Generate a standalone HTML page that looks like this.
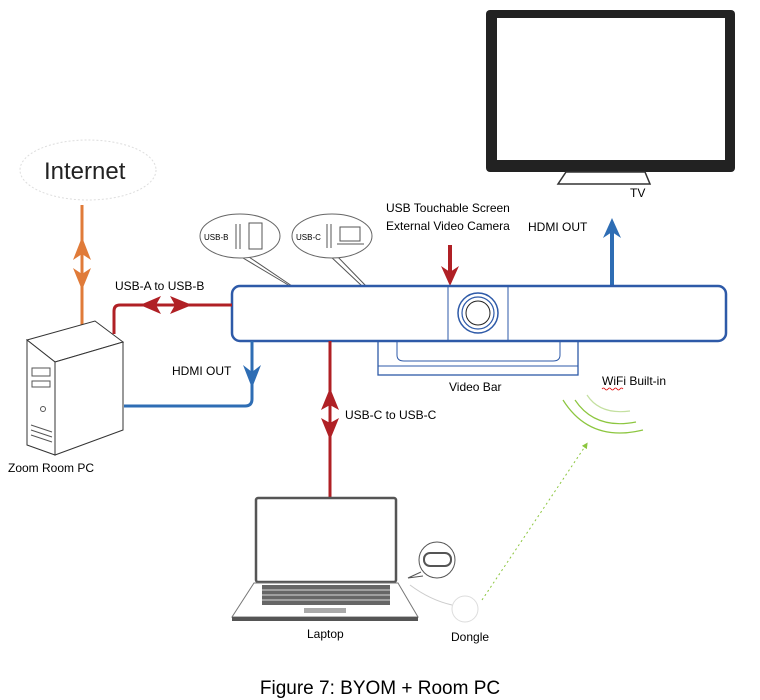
<!DOCTYPE html>
<html><head><meta charset="utf-8"><style>
body{margin:0;background:#fff;}
svg{display:block;font-family:"Liberation Sans",Arial,sans-serif;}
</style></head><body>
<svg width="760" height="700" viewBox="0 0 760 700" xmlns="http://www.w3.org/2000/svg">
<defs>
<marker id="g" markerWidth="6" markerHeight="6" refX="3" refY="3" orient="auto"><path d="M0,0 L6,3 L0,6z" fill="#8cc63f"/></marker>
</defs>
<!-- TV -->
<rect x="486" y="10" width="249" height="162" rx="4" fill="#222"/>
<rect x="497" y="18" width="228" height="142" fill="#fff"/>
<path d="M566 172 L645 172 L650 184 L558 184 Z" fill="#fff" stroke="#333" stroke-width="1.5"/>
<text x="630" y="197" font-size="12">TV</text>
<!-- blue up to TV -->
<line x1="612" y1="287" x2="612" y2="230" stroke="#2e6db4" stroke-width="4"/>
<path d="M603 238 L612 218 L621 238 L612 232Z" fill="#2e6db4"/>
<text x="528" y="231" font-size="12">HDMI OUT</text>
<!-- red down to bar -->
<text x="386" y="212" font-size="12">USB Touchable Screen</text>
<text x="386" y="230" font-size="12">External Video Camera</text>
<line x1="450" y1="245" x2="450" y2="275" stroke="#b02025" stroke-width="4"/>
<path d="M441 266 L450 286 L459 266 L450 272Z" fill="#b02025"/>
<!-- bubbles -->
<path d="M238 255 L290 286 M243 253 L292 286" stroke="#555" fill="none"/>
<ellipse cx="240" cy="236" rx="40" ry="22" fill="#fff" stroke="#666"/>
<text x="204" y="240" font-size="8">USB-B</text>
<line x1="236" y1="224" x2="236" y2="249" stroke="#555"/><line x1="240" y1="224" x2="240" y2="249" stroke="#555"/>
<rect x="249" y="223" width="13" height="26" fill="none" stroke="#555"/>
<path d="M329 255 L362 286 M335 254 L366 286" stroke="#555" fill="none"/>
<ellipse cx="332" cy="236" rx="40" ry="22" fill="#fff" stroke="#666"/>
<text x="296" y="240" font-size="8">USB-C</text>
<line x1="327" y1="224" x2="327" y2="248" stroke="#555"/><line x1="331" y1="224" x2="331" y2="248" stroke="#555"/>
<rect x="340" y="227" width="20" height="14" fill="none" stroke="#555"/>
<path d="M337 244 L364 244" stroke="#555"/>
<!-- video bar -->
<rect x="378" y="338" width="200" height="37" fill="#fff" stroke="#2e5aa8" stroke-width="1.3"/>
<line x1="378" y1="366" x2="578" y2="366" stroke="#2e5aa8"/>
<path d="M397 341 L397 355 Q397 361 404 361 L553 361 Q560 361 560 355 L560 341" fill="none" stroke="#2e5aa8"/>
<rect x="232" y="286" width="494" height="55" rx="8" fill="#fff" stroke="#2e5aa8" stroke-width="2.5"/>
<line x1="448" y1="287" x2="448" y2="340" stroke="#2e5aa8"/>
<line x1="508" y1="287" x2="508" y2="340" stroke="#2e5aa8"/>
<circle cx="478" cy="313" r="20" fill="none" stroke="#2e5aa8" stroke-width="1.5"/>
<circle cx="478" cy="313" r="16" fill="none" stroke="#2e5aa8" stroke-width="1.2"/>
<circle cx="478" cy="313" r="12" fill="none" stroke="#222" stroke-width="1"/>
<text x="449" y="391" font-size="12">Video Bar</text>
<!-- internet -->
<ellipse cx="88" cy="170" rx="68" ry="30" fill="#fff" stroke="#ddd" stroke-dasharray="2,2"/>
<text x="44" y="179" font-size="24" fill="#222">Internet</text>
<line x1="82" y1="205" x2="82" y2="328" stroke="#e07b39" stroke-width="3"/>
<path d="M73 260 L82 237 L91 260 L82 254Z" fill="#e07b39"/>
<path d="M73 268 L82 290 L91 268 L82 274Z" fill="#e07b39"/>
<!-- PC -->
<path d="M27 340 L95 321 L123 342 L55 362 Z" fill="#fff" stroke="#333"/>
<path d="M27 340 L55 362 L55 455 L27 445 Z" fill="#fff" stroke="#333"/>
<path d="M55 362 L123 342 L123 430 L55 455Z" fill="#fff" stroke="#333"/>
<rect x="32" y="368" width="18" height="8" fill="none" stroke="#555"/>
<rect x="32" y="381" width="18" height="6" fill="none" stroke="#555"/>
<circle cx="43" cy="409" r="2.5" fill="none" stroke="#555"/>
<path d="M31 425 L52 432 M31 430 L52 437 M31 435 L52 442" stroke="#555"/>
<text x="8" y="472" font-size="12">Zoom Room PC</text>
<!-- USB-A red -->
<path d="M114 334 L114 311 Q114 305 120 305 L232 305" fill="none" stroke="#b02025" stroke-width="3"/>
<path d="M161 296 L140 305 L161 314 L156 305Z" fill="#b02025"/>
<path d="M170 296 L192 305 L170 314 L175 305Z" fill="#b02025"/>
<text x="115" y="290" font-size="12">USB-A to USB-B</text>
<!-- HDMI blue -->
<path d="M252 341 L252 399 Q252 406 245 406 L124 406" fill="none" stroke="#2e6db4" stroke-width="3"/>
<path d="M243 365 L252 388 L261 365 L252 372Z" fill="#2e6db4"/>
<text x="172" y="375" font-size="12">HDMI OUT</text>
<!-- USB-C red -->
<line x1="330" y1="341" x2="330" y2="498" stroke="#b02025" stroke-width="3"/>
<path d="M321 410 L330 388 L339 410 L330 405Z" fill="#b02025"/>
<path d="M321 418 L330 440 L339 418 L330 423Z" fill="#b02025"/>
<text x="345" y="419" font-size="12">USB-C to USB-C</text>
<!-- laptop -->
<rect x="256" y="498" width="140" height="84" rx="2" fill="#fff" stroke="#555" stroke-width="2.5"/>
<path d="M254 583 L398 583 L418 617 L232 617 Z" fill="#fff" stroke="#777"/>
<rect x="262" y="585" width="128" height="20" fill="#666"/>
<g stroke="#fff" stroke-width="0.8">
<line x1="260" y1="590" x2="394" y2="590"/><line x1="260" y1="595" x2="394" y2="595"/><line x1="260" y1="600" x2="394" y2="600"/>
</g>
<rect x="304" y="608" width="42" height="5" fill="#aaa"/>
<rect x="232" y="617" width="186" height="4" fill="#555"/>
<text x="307" y="638" font-size="12">Laptop</text>
<!-- dongle -->
<circle cx="437" cy="560" r="18" fill="#fff" stroke="#555"/>
<path d="M421 572 L408 578 L423 576" fill="#fff" stroke="#555"/>
<rect x="424" y="553" width="27" height="13" rx="6" fill="none" stroke="#555" stroke-width="2"/>
<circle cx="465" cy="609" r="13" fill="none" stroke="#ddd"/>
<path d="M410 585 Q430 600 452 605" fill="none" stroke="#ccc"/>
<text x="451" y="641" font-size="12">Dongle</text>
<line x1="482" y1="600" x2="586" y2="445" stroke="#8cc63f" stroke-dasharray="2,3" marker-end="url(#g)"/>
<!-- wifi -->
<g fill="none" stroke="#8cc63f" stroke-width="1.2">
<path d="M563 400 Q590 443 643 430"/>
<path d="M575 400 Q595 430 636 422"/>
<path d="M587 395 Q600 415 630 411" stroke="#c4e0a0"/>
</g>
<text x="602" y="385" font-size="12">WiFi Built-in</text>
<path d="M602 389 q1.5 -2 3 0 t3 0 t3 0 t3 0 t3 0 t3 0 t3 0" fill="none" stroke="#d00" stroke-width="0.8"/>
<text x="380" y="694" font-size="19" text-anchor="middle">Figure 7: BYOM + Room PC</text>
</svg>
</body></html>
